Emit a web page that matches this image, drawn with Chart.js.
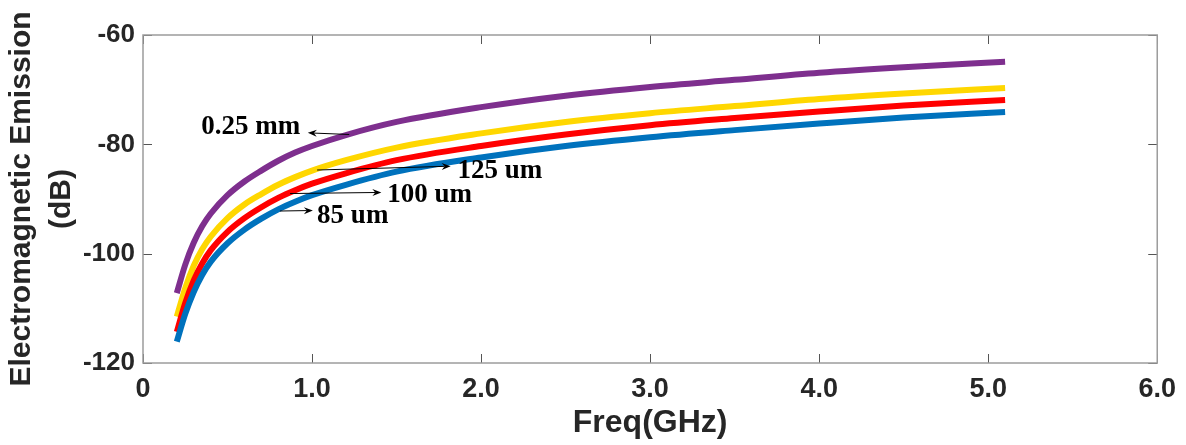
<!DOCTYPE html>
<html>
<head>
<meta charset="utf-8">
<title>Electromagnetic Emission vs Freq</title>
<script src="https://cdn.jsdelivr.net/npm/chart.js@4/dist/chart.umd.min.js"></script>
<style>
  body { margin: 0; background: #fff; }
  #box { width: 1186px; height: 445px; }
</style>
</head>
<body>
<div id="box"><canvas id="myChart"></canvas></div>
<script>
'use strict'
// freq (GHz), same x for the 4 curves
let freq = [0.2, 0.25, 0.3, 0.35, 0.4, 0.5, 0.6, 0.7, 0.8, 0.9, 1.0, 1.2, 1.5, 2.0, 2.5, 3.0, 3.5, 4.0, 4.5, 5.1];
// emission in dB
let em025mm = [-107.2, -102.0, -98.0, -95.0, -92.7, -89.3, -86.8, -84.8, -83.0, -81.5, -80.3, -78.3, -75.9, -73.2, -71.1, -69.5, -68.2, -66.9, -65.9, -64.9];
let em125um = [-111.5, -106.3, -102.2, -99.2, -96.9, -93.5, -91.0, -89.1, -87.4, -86.0, -84.8, -82.9, -80.6, -78.0, -75.9, -74.3, -73.0, -71.7, -70.7, -69.7];
let em100um = [-114.3, -109.0, -104.9, -101.8, -99.4, -96.0, -93.5, -91.5, -89.8, -88.4, -87.2, -85.3, -82.9, -80.3, -78.2, -76.5, -75.2, -74.0, -72.9, -71.9];
let em85um = [-116.1, -111.0, -107.0, -103.9, -101.5, -98.1, -95.6, -93.6, -91.9, -90.5, -89.3, -87.4, -85.0, -82.4, -80.3, -78.7, -77.4, -76.2, -75.1, -74.1];
let seriesNames = ['0.25 mm', '125 um', '100 um', '85 um'];
let xTicks = [0, 1, 2, 3, 4, 5, 6];
let yTicks = [-120, -100, -80, -60];

function toPoints(values) {
    let pts = [];
    for (let i = 0; i < freq.length; i++) {
        pts.push({ x: freq[i], y: values[i] });
    }
    return pts;
}

// text + arrow for every curve (data units), arrow goes from curve to the text
const notes = [
    { text: seriesNames[0], tx: 0.345, ty: -76.9, from: [1.22, -78.2], to: [0.975, -77.9] },
    { text: seriesNames[1], tx: 1.86, ty: -84.9, from: [1.03, -84.7], to: [1.82, -84.0] },
    { text: seriesNames[2], tx: 1.445, ty: -89.2, from: [0.87, -89.0], to: [1.41, -88.8] },
    { text: seriesNames[3], tx: 1.03, ty: -93.2, from: [0.81, -92.2], to: [1.005, -92.1] }
];

// matlab like box with ticks inside + the notes
let boxPlugin = {
    id: 'boxPlugin',
    beforeDatasetsDraw(chart) {
        let ctx = chart.ctx;
        let a = chart.chartArea;
        let xs = chart.scales.x;
        let ys = chart.scales.y;
        ctx.save();
        ctx.strokeStyle = '#555';
        ctx.lineWidth = 1;
        ctx.beginPath();
        xTicks.forEach(function (v) {
            let px = Math.round(xs.getPixelForValue(v)) + 0.5;
            ctx.moveTo(px, a.bottom); ctx.lineTo(px, a.bottom - 9);
            ctx.moveTo(px, a.top); ctx.lineTo(px, a.top + 9);
        });
        yTicks.forEach(function (v) {
            let py = Math.round(ys.getPixelForValue(v)) + 0.5;
            ctx.moveTo(a.left, py); ctx.lineTo(a.left + 9, py);
            ctx.moveTo(a.right, py); ctx.lineTo(a.right - 9, py);
        });
        ctx.stroke();
        ctx.strokeStyle = '#9c9c9c';
        ctx.lineWidth = 1.5;
        ctx.strokeRect(a.left, a.top, a.right - a.left, a.bottom - a.top);
        ctx.restore();
    },
    afterDatasetsDraw(chart) {
        let ctx = chart.ctx;
        let xs = chart.scales.x;
        let ys = chart.scales.y;
        ctx.save();
        ctx.fillStyle = '#000';
        ctx.strokeStyle = '#000';
        ctx.lineWidth = 1;
        ctx.font = 'bold 27px "Liberation Serif", "Times New Roman", serif';
        ctx.textAlign = 'left';
        ctx.textBaseline = 'middle';
        notes.forEach(function (n) {
            ctx.fillText(n.text, xs.getPixelForValue(n.tx), ys.getPixelForValue(n.ty));
            let x1 = xs.getPixelForValue(n.from[0]), y1 = ys.getPixelForValue(n.from[1]);
            let x2 = xs.getPixelForValue(n.to[0]), y2 = ys.getPixelForValue(n.to[1]);
            let ang = Math.atan2(y2 - y1, x2 - x1);
            ctx.beginPath();
            ctx.moveTo(x1, y1);
            ctx.lineTo(x2 - 6 * Math.cos(ang), y2 - 6 * Math.sin(ang));
            ctx.stroke();
            // arrow head
            ctx.beginPath();
            ctx.moveTo(x2, y2);
            ctx.lineTo(x2 - 9 * Math.cos(ang) + 3.5 * Math.sin(ang), y2 - 9 * Math.sin(ang) - 3.5 * Math.cos(ang));
            ctx.lineTo(x2 - 6 * Math.cos(ang), y2 - 6 * Math.sin(ang));
            ctx.lineTo(x2 - 9 * Math.cos(ang) - 3.5 * Math.sin(ang), y2 - 9 * Math.sin(ang) + 3.5 * Math.cos(ang));
            ctx.closePath();
            ctx.fill();
        });
        ctx.restore();
    }
};

function lineSet(label, values, color) {
    return {
        label: label,
        data: toPoints(values),
        borderColor: color,
        backgroundColor: color,
        borderWidth: 6,
        pointRadius: 0,
        fill: false,
        cubicInterpolationMode: 'monotone',
        borderCapStyle: 'butt'
    };
}

let ctx = document.getElementById('myChart').getContext('2d');
let myChart = new Chart(ctx, {
    type: 'line',
    data: {
        datasets: [
            lineSet(seriesNames[3], em85um, '#0072BD'),
            lineSet(seriesNames[2], em100um, '#FF0000'),
            lineSet(seriesNames[1], em125um, '#FFD700'),
            lineSet(seriesNames[0], em025mm, '#7E2F8E')
        ]
    },
    plugins: [boxPlugin],
    options: {
        responsive: true,
        maintainAspectRatio: false,
        animation: false,
        layout: { padding: { left: 0, top: 35, right: 28, bottom: 0 } },
        plugins: {
            legend: { display: false },
            tooltip: { enabled: false }
        },
        scales: {
            x: {
                type: 'linear',
                min: 0,
                max: 6,
                afterBuildTicks: function (s) { s.ticks = xTicks.map(function (v) { return { value: v }; }); },
                afterFit: function (s) { s.height = 82; },
                grid: { display: false, drawTicks: false },
                border: { display: false },
                ticks: {
                    padding: 10,
                    color: '#262626',
                    font: { family: '"Liberation Sans Narrow", "Liberation Sans", Arial, sans-serif', size: 27, weight: 'bold' },
                    callback: function (v) { return v === 0 ? '0' : v.toFixed(1); }
                },
                title: {
                    display: true,
                    text: 'Freq(GHz)',
                    color: '#262626',
                    padding: { top: 0, bottom: 3 },
                    font: { family: '"Liberation Sans Narrow", "Liberation Sans", Arial, sans-serif', size: 32, weight: 'bold', lineHeight: 1.2 }
                }
            },
            y: {
                min: -120,
                max: -60,
                afterBuildTicks: function (s) { s.ticks = yTicks.map(function (v) { return { value: v }; }); },
                afterFit: function (s) { s.width = 143; },
                grid: { display: false, drawTicks: false },
                border: { display: false },
                ticks: {
                    padding: 8,
                    color: '#262626',
                    font: { family: '"Liberation Sans", Arial, sans-serif', size: 26, weight: 'bold' }
                },
                title: {
                    display: true,
                    text: ['Electromagnetic Emission', '(dB)'],
                    color: '#262626',
                    padding: { top: 2, bottom: 0 },
                    font: { family: '"Liberation Sans", Arial, sans-serif', size: 30, weight: 'bold', lineHeight: 1.33 }
                }
            }
        }
    }
});
</script>
</body>
</html>
